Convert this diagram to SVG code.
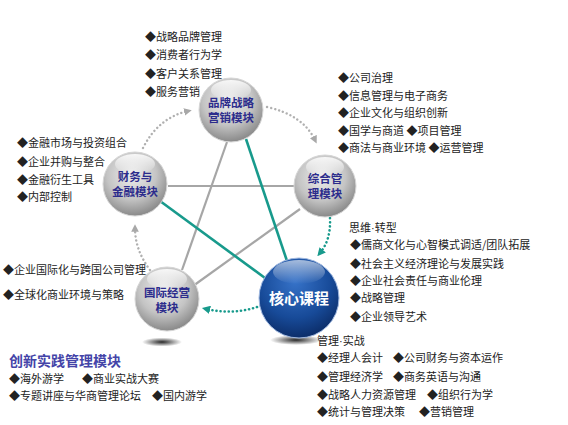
<svg xmlns="http://www.w3.org/2000/svg" width="568" height="425" viewBox="0 0 568 425">
<defs>
<radialGradient id="gs" cx="0.45" cy="0.35" r="0.7">
<stop offset="0" stop-color="#eeeeee"/>
<stop offset="0.55" stop-color="#c4c4c4"/>
<stop offset="1" stop-color="#7e7e7e"/>
</radialGradient>
<radialGradient id="bs" cx="0.45" cy="0.3" r="0.75">
<stop offset="0" stop-color="#3672c8"/>
<stop offset="0.6" stop-color="#174a98"/>
<stop offset="1" stop-color="#0a2860"/>
</radialGradient>
<linearGradient id="hl" x1="0" y1="0" x2="0" y2="1">
<stop offset="0" stop-color="#ffffff" stop-opacity="0.85"/>
<stop offset="1" stop-color="#ffffff" stop-opacity="0"/>
</linearGradient>
<radialGradient id="sh" cx="0.5" cy="0.5" r="0.5">
<stop offset="0" stop-color="#111" stop-opacity="0.9"/>
<stop offset="1" stop-color="#111" stop-opacity="0"/>
</radialGradient>
<marker id="ag" viewBox="0 0 10 10" refX="5" refY="5" markerWidth="3.2" markerHeight="3.2" orient="auto" markerUnits="strokeWidth">
<path d="M0,0 L10,5 L0,10 z" fill="#a8a8a8"/>
</marker>
<marker id="at" viewBox="0 0 10 10" refX="5" refY="5" markerWidth="3.2" markerHeight="3.2" orient="auto" markerUnits="strokeWidth">
<path d="M0,0 L10,5 L0,10 z" fill="#189a8c"/>
</marker>
</defs>
<style>
text{font-family:"Noto Sans CJK SC","Noto Sans",sans-serif;}
.t{font-size:11px;fill:#222;}
.n{font-size:11.5px;font-weight:bold;fill:#2c2c8c;text-anchor:middle;}
.c{font-size:15px;font-weight:bold;fill:#ffffff;text-anchor:middle;}
.h{font-size:14px;font-weight:bold;fill:#4444a8;}
.lg{stroke:#a6a6a6;stroke-width:2.2;fill:none;}
.lt{stroke:#189a8c;stroke-width:2.6;fill:none;}
.dg{stroke:#b0b0b0;stroke-width:2.4;fill:none;stroke-dasharray:0.1 4;stroke-linecap:round;}
.dt{stroke:#189a8c;stroke-width:2.6;fill:none;stroke-dasharray:0.1 4;stroke-linecap:round;}
.s{fill:url(#gs);stroke:#d6d6d6;stroke-width:1;}
</style>
<rect width="568" height="425" fill="#ffffff"/>
<g id="shadows">
<ellipse cx="162" cy="342" rx="20" ry="4.5" fill="url(#sh)"/>
<ellipse cx="296" cy="340" rx="26" ry="5" fill="url(#sh)"/>
</g>
<g id="connectors">
<line class="lg" x1="168" y1="186" x2="294" y2="186"/>
<line class="lg" x1="227" y1="142" x2="182" y2="270"/>
<line class="lg" x1="193" y1="286" x2="300" y2="209"/>
<line class="lt" x1="246" y1="139" x2="287" y2="261"/>
<line class="lt" x1="160" y1="201" x2="265" y2="278"/>
<path class="dg" d="M143,148 Q158,118 188,111" marker-end="url(#ag)"/>
<path class="dg" d="M267,107 Q303,115 315,140" marker-end="url(#ag)"/>
<path class="dt" d="M330,218 Q331,240 320,253" marker-end="url(#at)"/>
<path class="dt" d="M257,307 Q233,315 206,309" marker-end="url(#at)"/>
<path class="dg" d="M150,270 Q135,250 135,228" marker-end="url(#ag)"/>
</g>
<g id="brand">
<circle class="s" cx="231" cy="110" r="32"/>
<ellipse cx="231" cy="90" rx="20" ry="10" fill="url(#hl)"/>
<text class="n" x="231" y="107">品牌战略</text>
<text class="n" x="231" y="122">营销模块</text>
</g>
<g id="finance">
<circle class="s" cx="135" cy="184" r="32"/>
<ellipse cx="135" cy="164" rx="20" ry="10" fill="url(#hl)"/>
<text class="n" x="135" y="181">财务与</text>
<text class="n" x="135" y="196">金融模块</text>
</g>
<g id="general">
<circle class="s" cx="325" cy="186" r="31"/>
<ellipse cx="325" cy="167" rx="19" ry="10" fill="url(#hl)"/>
<text class="n" x="325" y="183">综合管</text>
<text class="n" x="325" y="198">理模块</text>
</g>
<g id="intl">
<circle class="s" cx="167" cy="299" r="32"/>
<ellipse cx="167" cy="279" rx="20" ry="10" fill="url(#hl)"/>
<text class="n" x="167" y="297">国际经营</text>
<text class="n" x="167" y="312">模块</text>
</g>
<g id="core">
<circle cx="299" cy="298" r="40" fill="url(#bs)" stroke="#9fb8e0" stroke-width="1"/>
<ellipse cx="299" cy="272" rx="26" ry="12" fill="url(#hl)" opacity="0.7"/>
<text class="c" x="299" y="304">核心课程</text>
</g>
<g id="brand-list">
<text class="t" x="145" y="41">◆战略品牌管理</text>
<text class="t" x="145" y="59">◆消费者行为学</text>
<text class="t" x="145" y="78">◆客户关系管理</text>
<text class="t" x="145" y="96">◆服务营销</text>
</g>
<g id="general-list">
<text class="t" x="338" y="82">◆公司治理</text>
<text class="t" x="338" y="100">◆信息管理与电子商务</text>
<text class="t" x="338" y="117">◆企业文化与组织创新</text>
<text class="t" x="338" y="135">◆国学与商道 ◆项目管理</text>
<text class="t" x="338" y="152">◆商法与商业环境 ◆运营管理</text>
</g>
<g id="finance-list">
<text class="t" x="17" y="147">◆金融市场与投资组合</text>
<text class="t" x="17" y="166">◆企业并购与整合</text>
<text class="t" x="17" y="184">◆金融衍生工具</text>
<text class="t" x="17" y="201">◆内部控制</text>
</g>
<g id="intl-list">
<text class="t" x="3" y="274">◆企业国际化与跨国公司管理</text>
<text class="t" x="3" y="299">◆全球化商业环境与策略</text>
</g>
<g id="core-list">
<text class="t" x="349" y="232">思维<tspan font-family="Liberation Sans, sans-serif">·</tspan>转型</text>
<text class="t" x="350" y="249">◆儒商文化与心智模式调适/团队拓展</text>
<text class="t" x="350" y="268">◆社会主义经济理论与发展实践</text>
<text class="t" x="350" y="285">◆企业社会责任与商业伦理</text>
<text class="t" x="350" y="302">◆战略管理</text>
<text class="t" x="350" y="321">◆企业领导艺术</text>
</g>
<g id="practice-list">
<text class="t" x="317" y="345">管理<tspan font-family="Liberation Sans, sans-serif">·</tspan>实战</text>
<text class="t" x="317" y="362">◆经理人会计</text>
<text class="t" x="393" y="362">◆公司财务与资本运作</text>
<text class="t" x="317" y="381">◆管理经济学</text>
<text class="t" x="393" y="381">◆商务英语与沟通</text>
<text class="t" x="317" y="399">◆战略人力资源管理</text>
<text class="t" x="427" y="399">◆组织行为学</text>
<text class="t" x="317" y="416">◆统计与管理决策</text>
<text class="t" x="419" y="416">◆营销管理</text>
</g>
<g id="innovation">
<text class="h" x="9" y="366">创新实践管理模块</text>
<text class="t" x="9" y="383">◆海外游学</text>
<text class="t" x="82" y="383">◆商业实战大赛</text>
<text class="t" x="9" y="400">◆专题讲座与华商管理论坛</text>
<text class="t" x="152" y="400">◆国内游学</text>
</g>
</svg>
